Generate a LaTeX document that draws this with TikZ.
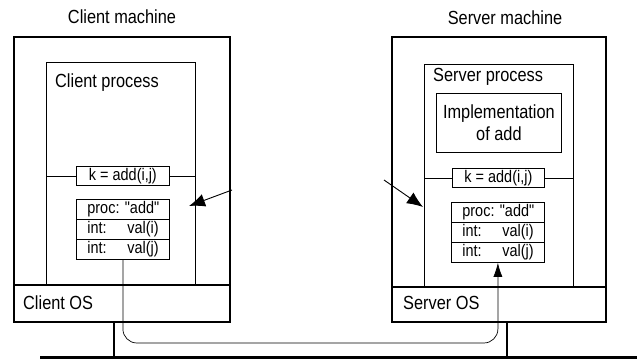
\documentclass[tikz,border=0pt]{standalone}
\usepackage{fontspec}
\setmainfont[FakeStretch=0.86,Ligatures=TeXOff]{Liberation Sans}
\usetikzlibrary{arrows.meta}
\newcommand{\rowtext}[1]{\makebox[71pt][l]{#1}}
\begin{document}
\begin{tikzpicture}[x=1pt,y=-1pt,
  machine/.style={draw, line width=1.6pt, inner sep=0pt, anchor=north west},
  procbox/.style={draw, line width=0.8pt, inner sep=0pt, anchor=north west},
  cell/.style={draw, line width=0.8pt, inner ysep=0pt, inner xsep=11pt, minimum width=93pt, minimum height=20pt, anchor=north west, font=\fontsize{16.8}{18}\selectfont},
  kbox/.style={draw, line width=0.8pt, inner sep=0pt, minimum height=19pt, anchor=north west, font=\fontsize{16.8}{18}\selectfont},
  lbl/.style={inner sep=0pt, font=\fontsize{19}{22}\selectfont},
  thin/.style={line width=0.7pt},
  bigarrow/.style={line width=0.9pt, -{Latex[length=16pt,width=13pt]}},
  flow/.style={line width=0.7pt, rounded corners=14pt, -{Latex[length=14pt,width=9pt]}},
  stem/.style={line width=2pt},
  net/.style={line width=3pt}]
\useasboundingbox (0,0) rectangle (637,361);

% ---------- Client ----------
\node[lbl] (ctitle) at (122,17) {Client machine};
\node[machine, minimum width=216pt, minimum height=285pt] (cmach) at (13,36) {};
\node[machine, minimum width=216pt, minimum height=37pt] (cos) at (13,284) {};
\node[lbl, anchor=west] (costxt) at (23,303) {Client OS};
\node[procbox, minimum width=149pt, minimum height=222pt] (cproc) at (46,62) {};
\node[lbl, anchor=west] (cproctxt) at (55,83) {Client process};
\node[kbox, minimum width=93pt] (ck) at (76,166) {k = add(i,j)};
\draw[thin] (cproc.west |- ck) -- (ck.west);
\draw[thin] (ck.east) -- (cproc.east |- ck);
\node[cell] (cm1) at (76,199) {\rowtext{proc: "add"}};
\node[cell] (cm2) at (76,219) {\rowtext{\makebox[40pt][l]{int:}val(i)}};
\node[cell] (cm3) at (76,239) {\rowtext{\makebox[40pt][l]{int:}val(j)}};

% ---------- Server ----------
\node[lbl] (stitle) at (505,18) {Server machine};
\node[machine, minimum width=214pt, minimum height=285pt] (smach) at (391,36) {};
\node[machine, minimum width=214pt, minimum height=35pt] (sos) at (391,286) {};
\node[lbl, anchor=west] (sostxt) at (403,303) {Server OS};
\node[procbox, minimum width=149pt, minimum height=222pt] (sproc) at (424,64) {};
\node[lbl, anchor=west] (sproctxt) at (433,77) {Server process};
\node[procbox, minimum width=125pt, minimum height=59pt, align=center, font=\fontsize{19}{22}\selectfont] (impl) at (436,93) {Implementation\\of add};
\node[kbox, minimum width=92pt] (sk) at (452,168) {k = add(i,j)};
\draw[thin] (sproc.west |- sk) -- (sk.west);
\draw[thin] (sk.east) -- (sproc.east |- sk);
\node[cell] (sm1) at (451,202) {\rowtext{proc: "add"}};
\node[cell] (sm2) at (451,222) {\rowtext{\makebox[40pt][l]{int:}val(i)}};
\node[cell] (sm3) at (451,242) {\rowtext{\makebox[40pt][l]{int:}val(j)}};

% ---------- Network ----------
\coordinate (netL) at (40,357);
\coordinate (netR) at (637,357);
\draw[net] (netL) -- (netR);
\coordinate (cstem) at (114,321);
\coordinate (sstem) at (507,321);
\draw[stem] (cstem) -- (cstem |- netL);
\draw[stem] (sstem) -- (sstem |- netL);

% ---------- Message path ----------
\coordinate (bus) at (0,343);
\draw[flow] (cm3.south) -- (cm3.south |- bus) -- (sm3.south |- bus) -- (sm3.south);

% ---------- Arrows ----------
\coordinate (a1s) at (232,190);
\coordinate (a1e) at (189,206);
\draw[bigarrow] (a1s) -- (a1e);
\coordinate (a2s) at (384,180);
\coordinate (a2e) at (423,207);
\draw[bigarrow] (a2s) -- (a2e);
\end{tikzpicture}
\end{document}
